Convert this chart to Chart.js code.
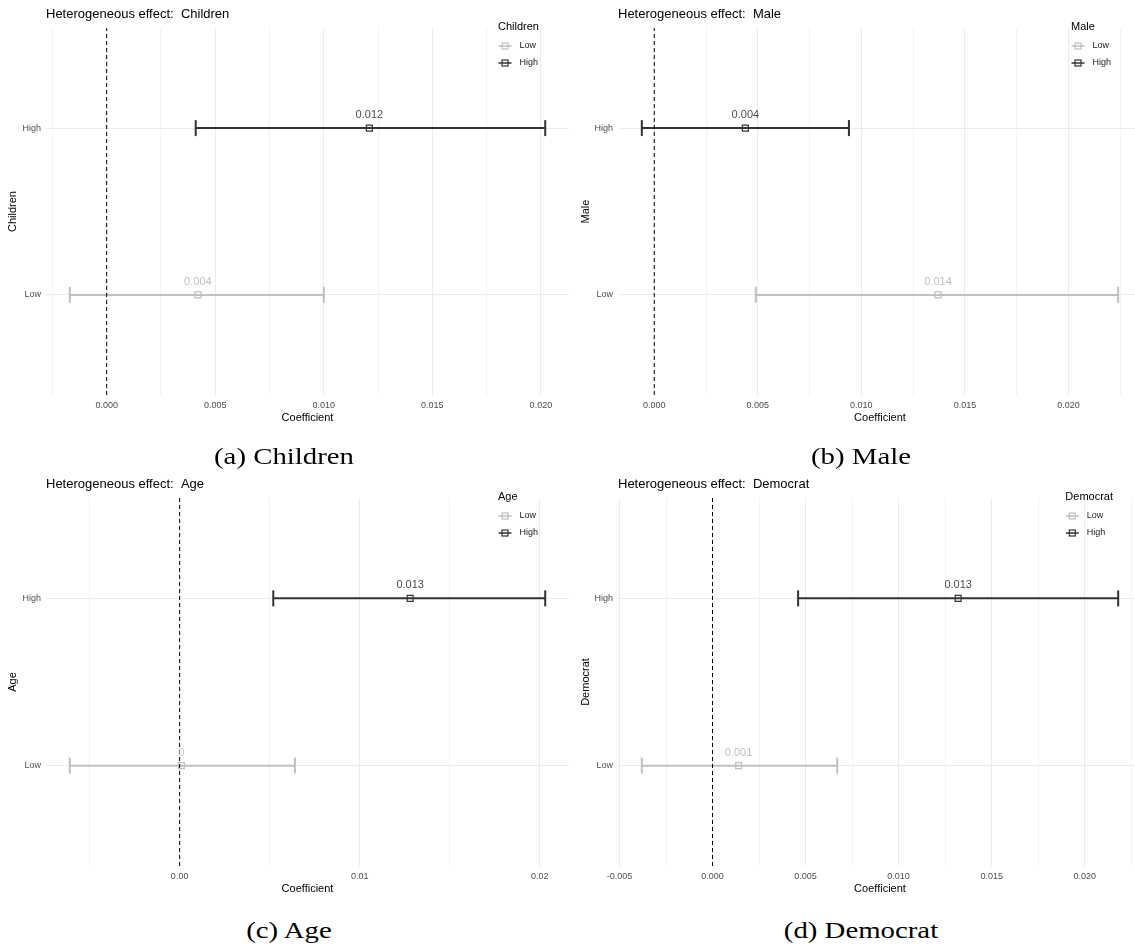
<!DOCTYPE html>
<html>
<head>
<meta charset="utf-8">
<title>Heterogeneous effects</title>
<script src="https://cdn.jsdelivr.net/npm/chart.js@4.4.0/dist/chart.umd.min.js"></script>
<style>
html, body { margin: 0; padding: 0; background: #fff; overflow: hidden; width: 1135px; height: 947px; }
canvas { position: absolute; }
.caption {
    position: absolute; width: 400px; height: 30px; line-height: 30px;
    text-align: center; font-family: "Liberation Serif", "Times New Roman", serif;
    font-size: 24px; color: #000; transform: scaleX(1.2); transform-origin: center;
}
</style>
</head>
<body>
<canvas id="chartA" width="570" height="428" style="left:0;top:0"></canvas>
<canvas id="chartB" width="572" height="428" style="left:570px;top:0"></canvas>
<canvas id="chartC" width="570" height="429" style="left:0;top:470px"></canvas>
<canvas id="chartD" width="572" height="429" style="left:570px;top:470px"></canvas>
<div class="caption" style="left:84px;top:441px">(a) Children</div>
<div class="caption" style="left:661px;top:441px">(b) Male</div>
<div class="caption" style="left:89px;top:915px">(c) Age</div>
<div class="caption" style="left:661px;top:915px">(d) Democrat</div>
<script>
var groups = ["Low", "High"];
var groupColors = ["#BFBFBF", "#333333"];
var labelColors = ["#BFBFBF", "#4D4D4D"];

// Children
var childrenEst = [0.0042, 0.0121];
var childrenLow = [-0.0017, 0.0041];
var childrenHigh = [0.0100, 0.0202];
var childrenLabels = ["0.004", "0.012"];
var childrenTicks = [0, 0.005, 0.010, 0.015, 0.020];
var childrenTickLabels = ["0.000", "0.005", "0.010", "0.015", "0.020"];

// Male
var maleEst = [0.0137, 0.0044];
var maleLow = [0.0049, -0.0006];
var maleHigh = [0.0224, 0.0094];
var maleLabels = ["0.014", "0.004"];
var maleTicks = [0, 0.005, 0.010, 0.015, 0.020];
var maleTickLabels = ["0.000", "0.005", "0.010", "0.015", "0.020"];

// Age
var ageEst = [0.0001, 0.0128];
var ageLow = [-0.0061, 0.0052];
var ageHigh = [0.0064, 0.0203];
var ageLabels = ["0", "0.013"];
var ageTicks = [0, 0.01, 0.02];
var ageTickLabels = ["0.00", "0.01", "0.02"];

// Democrat
var demEst = [0.0014, 0.0132];
var demLow = [-0.0038, 0.0046];
var demHigh = [0.0067, 0.0218];
var demLabels = ["0.001", "0.013"];
var demTicks = [-0.005, 0, 0.005, 0.010, 0.015, 0.020];
var demTickLabels = ["-0.005", "0.000", "0.005", "0.010", "0.015", "0.020"];

var FONT = '"Liberation Sans", Arial, sans-serif';
Chart.defaults.font.family = FONT;

function noPad(scale) {
    scale.paddingLeft = 0; scale.paddingRight = 0;
    scale.paddingTop = 0; scale.paddingBottom = 0;
}

function makePanel(id, name, est, low, high, labels, ticks, tickLabels, axisW, titlePad, rightPad) {
    var lo = Math.min.apply(null, low), hi = Math.max.apply(null, high);
    var span = hi - lo;
    var xMin = lo - 0.05 * span, xMax = hi + 0.05 * span;
    var half = (ticks[1] - ticks[0]) / 2;

    var datasets = [{
        data: [{x: 0, y: 0.4}, {x: 0, y: 2.6}],
        showLine: true, borderColor: "#000", borderWidth: 1, borderDash: [4, 3], pointRadius: 0
    }];
    groups.forEach(function (g, i) {
        datasets.push({
            label: g, data: [{x: est[i], y: i + 1}],
            pointStyle: "rect", pointRadius: 4.2, pointBorderWidth: 1.2,
            pointBorderColor: groupColors[i], pointBackgroundColor: "rgba(0,0,0,0)"
        });
        datasets.push({
            label: g, data: [{x: low[i], y: i + 1}, {x: high[i], y: i + 1}],
            showLine: true, borderColor: groupColors[i], borderWidth: 2,
            pointStyle: "line", pointRotation: 90, pointRadius: 8,
            pointBorderWidth: 2, pointBorderColor: groupColors[i]
        });
    });

    var decor = {
        id: "decor",
        afterDatasetsDraw: function (chart) {
            var ctx = chart.ctx, area = chart.chartArea;
            var xs = chart.scales.x, ys = chart.scales.y;
            ctx.save();
            ctx.textBaseline = "middle";
            // value labels
            ctx.textAlign = "center";
            ctx.font = "11px " + FONT;
            est.forEach(function (v, i) {
                ctx.fillStyle = labelColors[i];
                ctx.fillText(labels[i], xs.getPixelForValue(v), ys.getPixelForValue(i + 1) - 13);
            });
            // title
            ctx.textAlign = "left";
            ctx.fillStyle = "#000";
            ctx.font = "13px " + FONT;
            ctx.fillText("Heterogeneous effect:  " + name, area.left, area.top - 14);
            // legend
            ctx.font = "11px " + FONT;
            var left = area.right - 29 - Math.max(ctx.measureText(name).width, 42);
            ctx.fillText(name, left, area.top - 1);
            groups.forEach(function (g, i) {
                var y = area.top + 18 + i * 17, cx = left + 7;
                ctx.strokeStyle = groupColors[i];
                ctx.lineWidth = 1.5;
                ctx.beginPath(); ctx.moveTo(cx - 6.5, y); ctx.lineTo(cx + 6.5, y); ctx.stroke();
                ctx.lineWidth = 1.2;
                ctx.strokeRect(cx - 3, y - 3, 6, 6);
                ctx.fillStyle = "#1A1A1A";
                ctx.font = "9px " + FONT;
                ctx.fillText(g, left + 21.5, y);
            });
            ctx.restore();
        }
    };

    return new Chart(document.getElementById(id), {
        type: "scatter",
        data: { datasets: datasets },
        plugins: [decor],
        options: {
            responsive: false,
            animation: false,
            events: [],
            layout: { autoPadding: false, padding: { top: 28, right: rightPad, left: 0, bottom: 0 } },
            plugins: { legend: { display: false }, tooltip: { enabled: false } },
            scales: {
                x: {
                    type: "linear", min: xMin, max: xMax, bounds: "data",
                    afterBuildTicks: function (scale) {
                        var out = [];
                        for (var k = Math.ceil(xMin / half); k <= Math.floor(xMax / half); k++) {
                            var v = +(k * half).toFixed(6);
                            out.push({ value: v, isMajor: ticks.some(function (t) { return Math.abs(t - v) < half / 10; }) });
                        }
                        scale.ticks = out;
                    },
                    afterFit: function (scale) { scale.height = 33; noPad(scale); },
                    grid: {
                        drawTicks: false, lineWidth: 1,
                        color: function (c) { return c.tick && c.tick.isMajor ? "#EBEBEB" : "#F2F2F2"; }
                    },
                    border: { display: false },
                    ticks: {
                        autoSkip: false, maxRotation: 0, padding: 5, color: "#4D4D4D", font: { size: 9 },
                        callback: function (v) {
                            for (var j = 0; j < ticks.length; j++) {
                                if (Math.abs(ticks[j] - v) < half / 10) return tickLabels[j];
                            }
                            return "";
                        }
                    },
                    title: { display: true, text: "Coefficient", color: "#000", font: { size: 11 }, padding: { top: 0, bottom: 3 } }
                },
                y: {
                    type: "linear", min: 0.4, max: 2.6, bounds: "data",
                    afterBuildTicks: function (scale) {
                        scale.ticks = groups.map(function (g, i) { return { value: i + 1 }; });
                    },
                    afterFit: function (scale) { scale.width = axisW; noPad(scale); },
                    grid: { drawTicks: false, color: "#EBEBEB", lineWidth: 1 },
                    border: { display: false },
                    ticks: {
                        padding: 5, color: "#4D4D4D", font: { size: 9 },
                        callback: function (v) { return groups[Math.round(v) - 1]; }
                    },
                    title: { display: true, text: name, color: "#000", font: { size: 11 }, padding: { top: titlePad, bottom: 0 } }
                }
            }
        }
    });
}

makePanel("chartA", "Children", childrenEst, childrenLow, childrenHigh, childrenLabels, childrenTicks, childrenTickLabels, 46, 6.7, 1);
makePanel("chartB", "Male", maleEst, maleLow, maleHigh, maleLabels, maleTicks, maleTickLabels, 48, 9.1, 0);
makePanel("chartC", "Age", ageEst, ageLow, ageHigh, ageLabels, ageTicks, ageTickLabels, 46, 6.7, 1);
makePanel("chartD", "Democrat", demEst, demLow, demHigh, demLabels, demTicks, demTickLabels, 48, 9.1, 0);
</script>
</body>
</html>
